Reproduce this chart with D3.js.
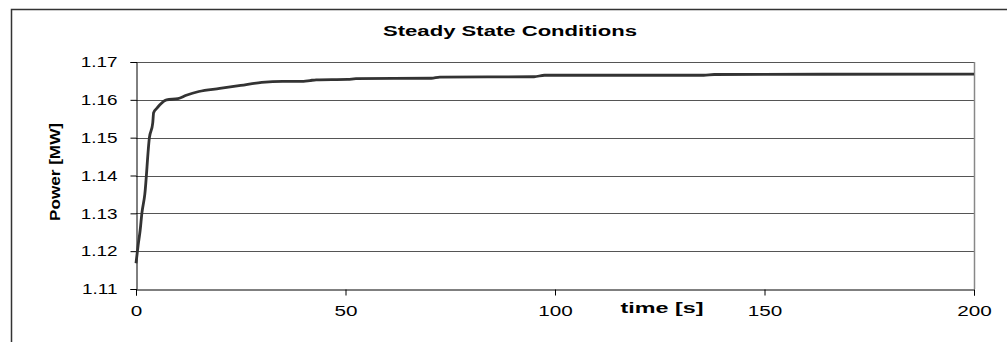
<!DOCTYPE html>
<html>
<head>
<meta charset="utf-8">
<script src="https://cdn.jsdelivr.net/npm/d3@7"></script>
<style>
  body { margin: 0; background: #fff; }
  text { font-family: "Liberation Sans", Arial, sans-serif; }
</style>
</head>
<body>
<script>
// chart values
const timeValues = [0, 0.5, 1, 1.4, 2.1, 3.2, 4.0, 4.2, 5, 5.7, 7.3, 10, 12, 15, 20, 25, 30, 35, 40, 41.5, 43, 50.5, 52.5, 70.5, 72.5, 95, 97.5, 135.5, 138, 200];
const powerValues = [1.1168, 1.1215, 1.1256, 1.1300, 1.1350, 1.1500, 1.1539, 1.1566, 1.1578, 1.1587, 1.1600, 1.1603, 1.1612, 1.1622, 1.1630, 1.1638, 1.1646, 1.1649, 1.1649, 1.1651, 1.1653, 1.1654, 1.1656, 1.1657, 1.1660, 1.1661, 1.1665, 1.1665, 1.1667, 1.1668];
const xTicks = [0, 50, 100, 150, 200];
const yTicks = [1.11, 1.12, 1.13, 1.14, 1.15, 1.16, 1.17];

const title = 'Steady State Conditions';
const xLabel = 'time [s]';
const yLabel = 'Power [MW]';

const width = 1007, height = 342;
const plot = { left: 136, right: 974, top: 62, bottom: 289 };

const svg = d3.select('body')
    .append('svg')
    .attr('width', width)
    .attr('height', height);

// outer chart frame (cropped at right and bottom)
svg.append('path')
    .attr('d', `M11.5,${height} V9.5 H${width}`)
    .attr('fill', 'none')
    .attr('stroke', '#333')
    .attr('stroke-width', 1.5);

const x = d3.scaleLinear()
    .domain([0, 200])
    .range([plot.left, plot.right]);

const y = d3.scaleLinear()
    .domain([1.11, 1.17])
    .range([plot.bottom, plot.top]);

// gridlines
svg.append('g')
    .selectAll('line')
    .data(yTicks.slice(1))
    .enter()
    .append('line')
    .attr('x1', plot.left)
    .attr('x2', plot.right)
    .attr('y1', d => Math.round(y(d)) + 0.5)
    .attr('y2', d => Math.round(y(d)) + 0.5)
    .attr('stroke', '#555')
    .attr('stroke-width', 1);

// right border of plot area
svg.append('line')
    .attr('x1', plot.right + 0.5)
    .attr('x2', plot.right + 0.5)
    .attr('y1', plot.top)
    .attr('y2', plot.bottom)
    .attr('stroke', '#888')
    .attr('stroke-width', 1.5);

// axes
const yAxis = svg.append('g')
    .attr('transform', `translate(${plot.left + 0.5},0)`)
    .call(d3.axisLeft(y).tickValues(yTicks).tickFormat(d3.format('.2f')).tickSize(6).tickPadding(13));

const xAxis = svg.append('g')
    .attr('transform', `translate(0,${plot.bottom + 0.5})`)
    .call(d3.axisBottom(x).tickValues(xTicks).tickFormat(d3.format('d')).tickSize(6).tickPadding(10));

// the reference text is drawn wide, so stretch each label
function widen(sel, factor) {
    sel.each(function () {
        const w = this.getComputedTextLength();
        d3.select(this)
            .attr('textLength', w * factor)
            .attr('lengthAdjust', 'spacingAndGlyphs');
    });
}

[xAxis, yAxis].forEach(g => {
    g.select('.domain').attr('stroke', '#000');
    g.selectAll('.tick line').attr('stroke', '#000');
    g.selectAll('.tick text')
        .attr('font-size', 15)
        .attr('fill', '#000')
        .style('font-family', '"Liberation Sans", Arial, sans-serif');
});
widen(yAxis.selectAll('.tick text'), 1.26);
widen(xAxis.selectAll('.tick text'), 1.38);

// data line
const line = d3.line()
    .x((d, i) => x(timeValues[i]))
    .y(d => y(d))
    .curve(d3.curveMonotoneX);

svg.append('path')
    .datum(powerValues)
    .attr('fill', 'none')
    .attr('stroke', '#333')
    .attr('stroke-width', 2.8)
    .attr('stroke-linejoin', 'round')
    .attr('d', line);

// titles
svg.append('text')
    .attr('x', 510)
    .attr('y', 36)
    .attr('text-anchor', 'middle')
    .attr('font-size', 14)
    .attr('font-weight', 'bold')
    .attr('textLength', 254)
    .attr('lengthAdjust', 'spacingAndGlyphs')
    .text(title);

svg.append('text')
    .attr('x', 662)
    .attr('y', 313)
    .attr('text-anchor', 'middle')
    .attr('font-size', 15)
    .attr('font-weight', 'bold')
    .attr('textLength', 83)
    .attr('lengthAdjust', 'spacingAndGlyphs')
    .text(xLabel);

svg.append('text')
    .attr('transform', 'translate(60,172) rotate(-90)')
    .attr('text-anchor', 'middle')
    .attr('font-size', 15)
    .attr('font-weight', 'bold')
    .attr('textLength', 98)
    .attr('lengthAdjust', 'spacingAndGlyphs')
    .text(yLabel);
</script>
</body>
</html>
